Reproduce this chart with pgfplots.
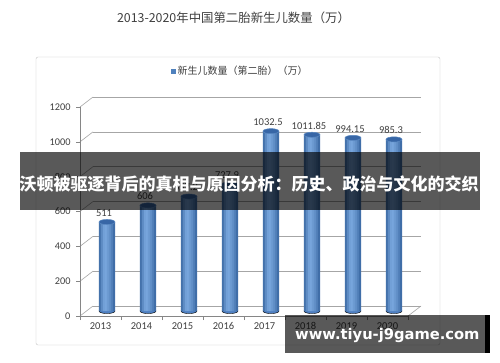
\documentclass[border=0pt]{standalone}
\usepackage{pgfplots}
\pgfplotsset{compat=1.18}
\usepackage{pgfplotstable}
\usepackage{fontspec}
\setmainfont{Carlito}
\newfontfamily\cjk{Noto Sans CJK SC}
\newfontfamily\wm{DejaVu Sans}
\definecolor{txt}{HTML}{404040}
\definecolor{gridc}{HTML}{A6A6A6}
\definecolor{axc}{HTML}{868686}
\definecolor{barmid}{HTML}{7BA9E0}
\definecolor{baredge}{HTML}{2C5A95}
\definecolor{bartop}{HTML}{3766A6}
\definecolor{barbot}{HTML}{4F80C2}
\definecolor{legblue}{HTML}{4F81BD}

\pgfplotstableread{
x v lab
0 511 511
1 606 606
2 657.2 657.2
3 727.9 727.9
4 1032.5 1032.5
5 1011.85 1011.85
6 994.15 994.15
7 985.3 985.3
}\births

\pgfplotsset{slice/.style={ybar, bar width=2.4pt, bar shift=#1pt, draw=none, forget plot},
  barframe/.style={at={(86.5pt,51pt)}, anchor=south west, scale only axis,
  width=328pt, height=209pt, xmin=-0.5, xmax=7.5, ymin=0, ymax=1200,
  hide axis, clip=false}}

\begin{document}
\begin{tikzpicture}[x=1pt,y=1pt]
\useasboundingbox (0,0) rectangle (500,362);
\fill[white] (0,0) rectangle (500,362);
\draw[gray!45, rounded corners=2pt] (36,17) rectangle (440,305);
\node[text=txt, font=\cjk\fontsize{12.4}{14}\selectfont] at (233.5,344) {2013-2020年中国第二胎新生儿数量（万）};

% back wall grid
\begin{axis}[at={(93pt,56pt)}, anchor=south west, scale only axis,
  width=328pt, height=209pt, xmin=-0.5, xmax=7.5, ymin=0, ymax=1200,
  ytick={0,200,...,1200}, xtick=\empty, yticklabels={},
  ymajorgrids, major grid style={gridc, line width=0.6pt},
  axis line style={draw=none}, major tick length=0pt]
\addplot[draw=none] coordinates {(0,0)};
\end{axis}
\foreach \k in {0,1,...,6} {
  \draw[gridc, line width=0.6pt] (80, {46+\k*34.833}) -- (93, {56+\k*34.833});
}
\draw[gridc, line width=0.6pt] (408,46) -- (421,56);

% front axis
\begin{axis}[at={(80pt,46pt)}, anchor=south west, scale only axis,
  width=328pt, height=209pt, xmin=-0.5, xmax=7.5, ymin=0, ymax=1200,
  axis x line=bottom, axis y line=left, axis line style={axc, -, line width=0.6pt},
  every tick/.style={axc, line width=0.6pt},
  ytick={0,200,...,1200}, tick align=outside, major tick length=4pt,
  xtick={-0.5,0.5,...,7.5}, xticklabels={},
  extra x ticks={0,1,2,3,4,5,6,7},
  extra x tick labels={2013,2014,2015,2016,2017,2018,2019,2020},
  extra x tick style={major tick length=0pt},
  /pgf/number format/1000 sep={}, /pgf/number format/assume math mode=true,
  yticklabel style={font=\fontsize{10.3}{12}\selectfont, text=txt, xshift=-2pt},
  xticklabel style={font=\fontsize{10.5}{12}\selectfont, text=txt, yshift=-3pt}]
\addplot[draw=none] coordinates {(0,0)};
\end{axis}

% rounded bottoms of the cylinders
\begin{axis}[barframe]
\addplot[only marks, mark=*, mark size=8pt, mark options={yscale=0.32, fill=barbot, draw=none}]
  coordinates {(0,0) (1,0) (2,0) (3,0) (4,0) (5,0) (6,0) (7,0)};
\end{axis}

% bars (cylinders built from thin vertical slices)
\begin{axis}[barframe,
  legend style={at={(0.468,1.148)}, anchor=center, draw=none, fill=none,
    font=\cjk\fontsize{10}{12}\selectfont, text=txt, inner sep=0pt},
  ]
\addplot[slice=-7, fill=barmid!30!baredge] table[x=x, y=v] \births;
\addplot[slice=-5, fill=barmid!62!baredge] table[x=x, y=v] \births;
\addplot[slice=-3, fill=barmid!88!baredge] table[x=x, y=v] \births;
\addplot[slice=-1, fill=barmid!95!baredge] table[x=x, y=v] \births;
\addplot[slice=1, fill=barmid!82!baredge] table[x=x, y=v] \births;
\addplot[slice=3, fill=barmid!68!baredge] table[x=x, y=v] \births;
\addplot[slice=5, fill=barmid!50!baredge] table[x=x, y=v] \births;
\addplot[slice=7, fill=barmid!25!baredge] table[x=x, y=v] \births;
\addplot[only marks, mark=*, mark size=8pt, mark options={yscale=0.32, fill=bartop, draw=barmid!60!baredge, line width=0.5pt}, forget plot]
  table[x=x, y=v] \births;
\addplot[draw=none, mark=none, nodes near coords, point meta=explicit symbolic,
  every node near coord/.style={font=\fontsize{10.5}{12}\selectfont, text=txt, anchor=south, yshift=2pt, xshift=-3pt},
  legend image code/.code={\fill[legblue] (0pt,-2.5pt) rectangle (5pt,2.5pt);}]
  table[x=x, y=v, meta=lab] \births;
\addlegendentry{新生儿数量（第二胎）（万）}
\end{axis}

% overlays
\fill[black, opacity=0.65] (20,152) rectangle (480,210);
\node[text=white, font=\cjk\bfseries\fontsize{17}{17}\selectfont] at (249,178) {沃顿被驱逐背后的真相与原因分析：历史、政治与文化的交织};
\fill[black, opacity=0.65] (285,9) rectangle (485,47);
\fill[black] (485,9) rectangle (490,47);
\node[text=white, font=\wm\bfseries\fontsize{14.7}{15}\selectfont, anchor=west, inner sep=0pt] at (295,27) {www.tiyu-j9game.com};
\end{tikzpicture}
\end{document}
